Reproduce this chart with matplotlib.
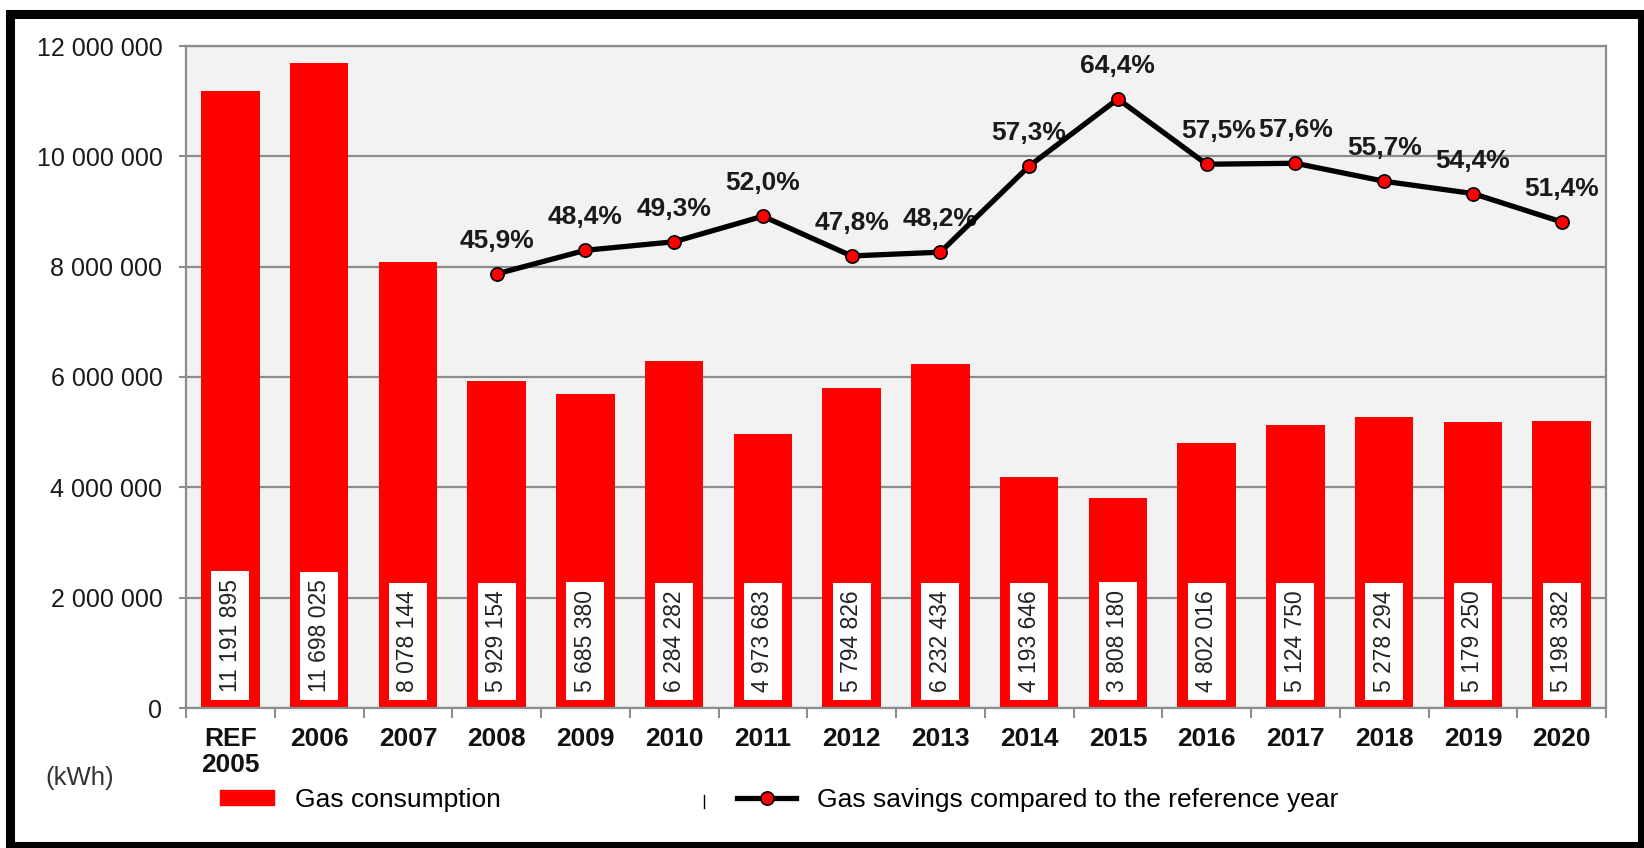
#!/usr/bin/env python3
"""Gas consumption per year with savings vs. reference year."""
import matplotlib.pyplot as plt
from matplotlib.patches import Rectangle
from matplotlib.lines import Line2D
from matplotlib.ticker import FuncFormatter, FixedLocator

plt.rcParams['font.family'] = ['Liberation Sans', 'DejaVu Sans']

years = ["REF\n2005", "2006", "2007", "2008", "2009", "2010", "2011", "2012",
         "2013", "2014", "2015", "2016", "2017", "2018", "2019", "2020"]
consumption = [11191895, 11698025, 8078144, 5929154, 5685380, 6284282,
               4973683, 5794826, 6232434, 4193646, 3808180, 4802016,
               5124750, 5278294, 5179250, 5198382]
savings_years = ["2008", "2009", "2010", "2011", "2012", "2013", "2014",
                 "2015", "2016", "2017", "2018", "2019", "2020"]
savings = [45.9, 48.4, 49.3, 52.0, 47.8, 48.2, 57.3, 64.4, 57.5, 57.6,
           55.7, 54.4, 51.4]

RED = "#ff0000"
GRID = "#8c8c8c"


def spaced(v):
    return f"{int(v):,}".replace(",", " ")


fig = plt.figure(figsize=(16.44, 8.48), dpi=100)
ax = fig.add_axes([186 / 1644, 1 - 708 / 848, 1420 / 1644, 662 / 848])
ax.set_facecolor("#f2f2f2")

x = list(range(len(years)))
bars = ax.bar(x, consumption, width=0.66, color=RED, zorder=2)
for xi, v in zip(x, consumption):
    ax.text(xi, 290000, spaced(v), rotation=90, ha="center", va="bottom",
            fontsize=16.5, color="#222222", zorder=3,
            bbox=dict(boxstyle="square,pad=0.33", fc="white", ec="none"))

ax.set_xlim(-0.5, len(years) - 0.5)
ax.set_ylim(0, 12000000)
ax.set_yticks(range(0, 12000001, 2000000))
ax.yaxis.set_major_formatter(FuncFormatter(lambda v, p: spaced(v)))
ax.grid(axis="y", color=GRID, lw=1.6, zorder=1)
ax.set_axisbelow(True)
ax.tick_params(axis="y", labelsize=18, length=5, width=1.5, color=GRID,
               pad=12, labelcolor="#1a1a1a")

ax.set_xticks(x)
ax.set_xticklabels(years, fontsize=19, fontweight="bold", linespacing=1.1)
ax.tick_params(axis="x", which="major", length=0, pad=14, labelcolor="#111111")
ax.xaxis.set_minor_locator(FixedLocator([i - 0.5 for i in range(len(years) + 1)]))
ax.tick_params(axis="x", which="minor", length=7, width=1.5, color=GRID)
for s in ax.spines.values():
    s.set_color(GRID)
    s.set_linewidth(1.6)

# savings line on hidden secondary axis (0-70 %)
ax2 = ax.twinx()
ax2.set_ylim(0, 70)
ax2.axis("off")
sx = [years.index(y) for y in savings_years]
ax2.plot(sx, savings, color="black", lw=3.8, marker="o", markersize=9.5,
         markerfacecolor=RED, markeredgecolor="black", markeredgewidth=1.2,
         zorder=4)
for xi, v, y in zip(sx, savings, savings_years):
    dx = 12 if y == "2016" else 0
    ax2.annotate(f"{v:.1f}%".replace(".", ","), (xi, v),
                 textcoords="offset pixels", xytext=(dx, 33), ha="center",
                 va="center", fontsize=19, fontweight="bold", color="#1a1a1a")

fig.text(45 / 1644, 1 - 778 / 848, "(kWh)", fontsize=18.5, color="#333333",
         va="center", ha="left")

# legends
fig.legend(handles=[Rectangle((0, 0), 1, 1, color=RED)],
           labels=["Gas consumption"], loc="center left",
           bbox_to_anchor=(220 / 1644, 1 - 800 / 848), frameon=False,
           fontsize=19, handlelength=2.05, handleheight=0.5,
           handletextpad=0.8, borderpad=0, borderaxespad=0)
fig.legend(handles=[Line2D([0], [0], color="black", lw=3.8, marker="o",
                           markersize=9.5, markerfacecolor=RED,
                           markeredgecolor="black", markeredgewidth=1.2)],
           labels=["Gas savings compared to the reference year"],
           loc="center left", bbox_to_anchor=(737 / 1644, 1 - 800 / 848),
           frameon=False, fontsize=19, handlelength=2.24,
           handletextpad=0.8, borderpad=0, borderaxespad=0)
fig.add_artist(Line2D([704 / 1644, 704 / 1644], [1 - 808 / 848, 1 - 795 / 848],
                      color="black", lw=1))

# outer black frame
fig.add_artist(Rectangle((10 / 1644, 1 - 845.5 / 848), 1631.5 / 1644,
                         832 / 848, fill=False, ec="black", lw=6.5))

fig.savefig("out.png", dpi=100)
